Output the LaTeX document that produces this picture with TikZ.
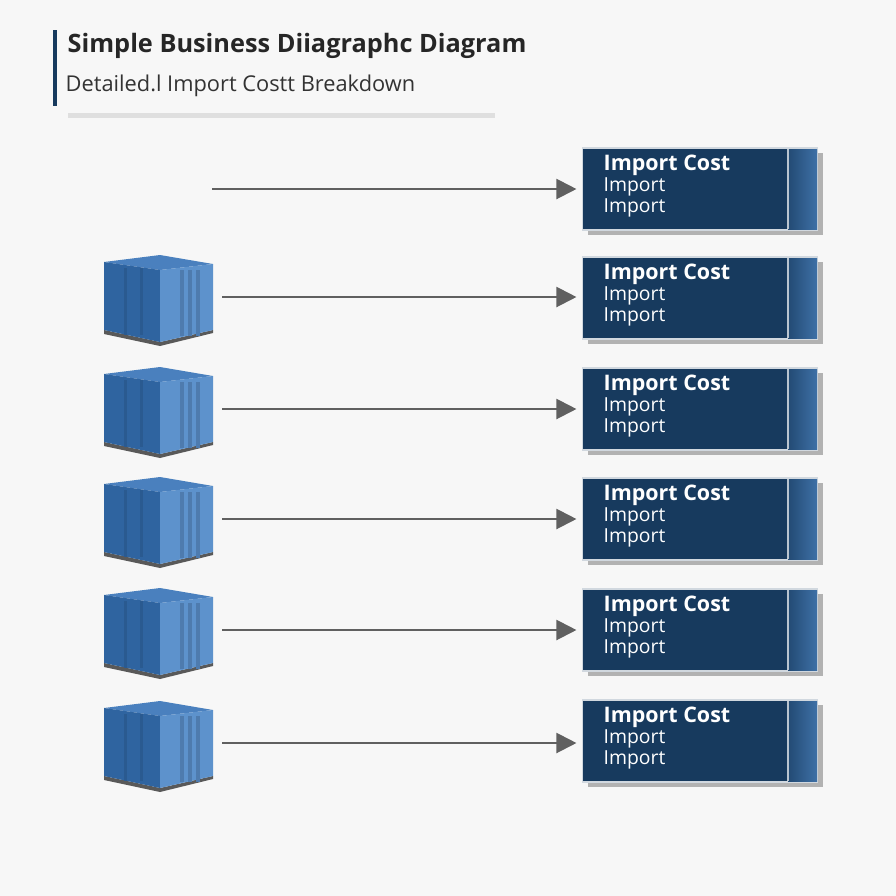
\documentclass[tikz,border=0pt]{standalone}
\usepackage{fontspec}
\setmainfont{Open Sans}
\usetikzlibrary{arrows,arrows.meta,positioning}
\definecolor{navy}{HTML}{173A5E}
\definecolor{stripblue}{HTML}{3E70A6}
\definecolor{boxfront}{HTML}{2F64A0}
\definecolor{boxside}{HTML}{5D92CC}
\definecolor{boxtop}{HTML}{4A80BE}
\tikzset{
    costbox/.style={rectangle, fill=navy, draw=white!80!navy, minimum width=2.35cm, minimum height=0.82cm, inner sep=0pt},
    costarrow/.style={-{Triangle[length=0.2cm,width=0.2cm]}, draw=gray!75!black, line width=0.6pt, shorten >=1.5pt},
    cbox/.style={rectangle, minimum width=1.09cm, minimum height=0.9cm, inner sep=0pt},
}
\begin{document}
\begin{tikzpicture}[x=0.01cm, y=-0.01cm]
\useasboundingbox[fill=gray!6] (0,0) rectangle (896,896);
% header
\fill[navy] (53,30) rectangle (57,106);
\node[anchor=west, font=\bfseries\fontsize{7.2}{8}\selectfont, text=black!85, inner sep=0pt] (title) at (67,46) {Simple Business Diiagraphc Diagram};
\node[anchor=west, font=\fontsize{6.2}{7}\selectfont, text=black!80, inner sep=0pt] (subtitle) at (65,86) {Detailed.l Import Costt Breakdown};
\fill[gray!25] (68,113) rectangle (495,118);
% rows
\foreach \i/\y in {1/189, 2/298, 3/409, 4/519, 5/630, 6/741}{
  \fill[gray!60] (588,\y-36) rectangle (823,\y+46);
  \node[costbox] (cost\i) at (700,\y) {};
  \fill[left color=navy!70!stripblue, right color=stripblue] (788,\y-40) rectangle (817,\y+40);
  \draw[white!70!navy, line width=0.4pt] (788,\y-40) -- (788,\y+40);
  \node[anchor=north west, text=white, font=\fontsize{5.5}{6}\selectfont, align=left, inner sep=0pt] (lbl\i) at (603,\y-35)
    {\textbf{\fontsize{6.1}{6.2}\selectfont Import Cost}\\Import\\Import};
}
\coordinate (start1) at (212,189);
\draw[costarrow] (start1) -- (cost1.west);
\foreach \i/\y in {2/297, 3/409, 4/519, 5/630, 6/743}{
  % container
  \fill[gray!70!black] (104,\y+33) -- (160,\y+45) -- (213,\y+33) -- (213,\y+36) -- (160,\y+49) -- (104,\y+37) -- cycle;
  \fill[boxtop] (104,\y-35) -- (160,\y-42) -- (213,\y-33) -- (160,\y-27) -- cycle;
  \fill[boxfront] (104,\y-35) -- (160,\y-27) -- (160,\y+45) -- (104,\y+33) -- cycle;
  \fill[boxside] (160,\y-27) -- (213,\y-33) -- (213,\y+33) -- (160,\y+45) -- cycle;
  \foreach \s in {180,188,196}{\fill[boxfront!85] (\s,\y-27) rectangle (\s+4,\y+39);}
  \foreach \s in {124,140}{\fill[boxfront!90!black] (\s,\y-29) rectangle (\s+3,\y+38);}
  \node[cbox] (box\i) at (158,\y) {};
  \draw[costarrow, shorten <=2.6pt] (box\i.east) -- (cost\i.west |- box\i.east);
}
\end{tikzpicture}
\end{document}
